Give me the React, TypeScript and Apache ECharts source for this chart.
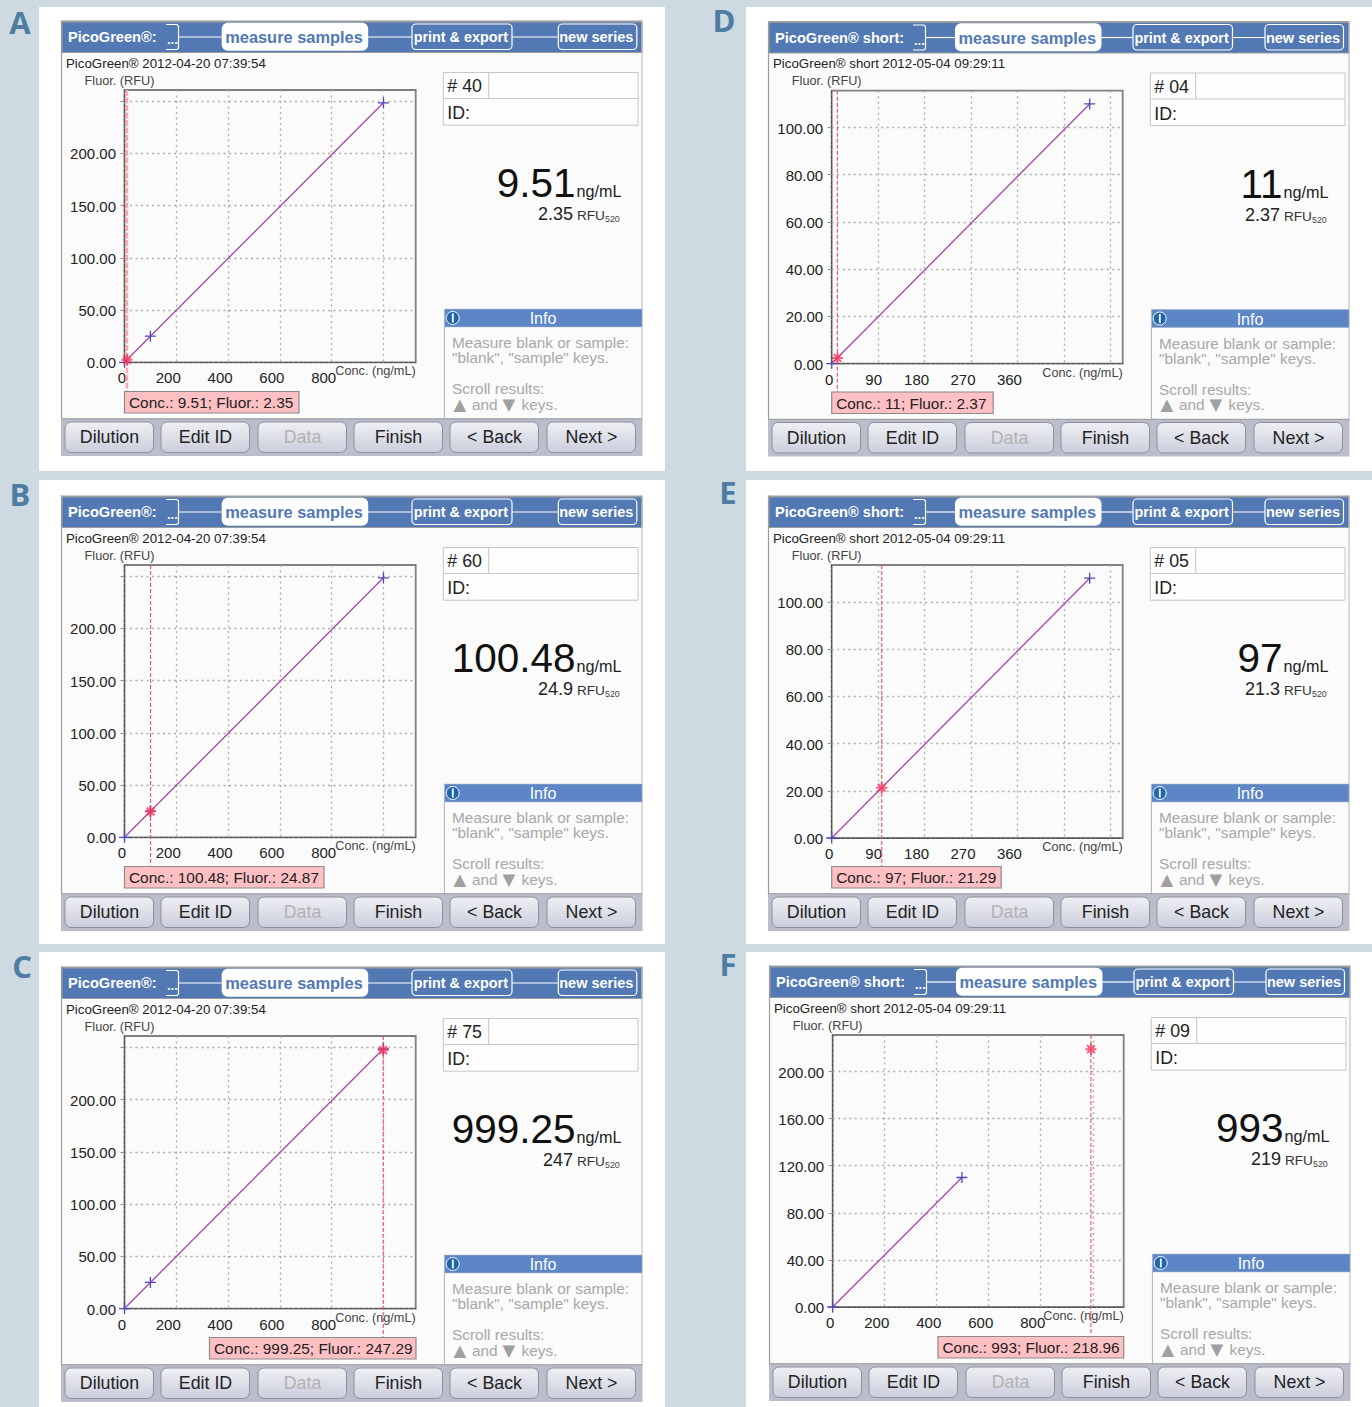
import React, { useEffect, useRef } from "react";
import * as echarts from "echarts";

// ---------- data ----------
const panelLetters = ["A", "B", "C", "D", "E", "F"];
const sampleNumbers = ["40", "60", "75", "04", "05", "09"];
const sampleConc = [9.51, 100.48, 999.25, 11, 97, 993];
const sampleFluor = [2.35, 24.87, 247.29, 2.37, 21.29, 218.96];
const bigConcText = ["9.51", "100.48", "999.25", "11", "97", "993"];
const bigFluorText = ["2.35", "24.9", "247", "2.37", "21.3", "219"];
const boxLabels = [
  "Conc.: 9.51; Fluor.: 2.35",
  "Conc.: 100.48; Fluor.: 24.87",
  "Conc.: 999.25; Fluor.: 247.29",
  "Conc.: 11; Fluor.: 2.37",
  "Conc.: 97; Fluor.: 21.29",
  "Conc.: 993; Fluor.: 218.96",
];
const standardsLong = [[0, 0], [100, 25], [1000, 248.5]];
const standardsShort = [[0, 0], [500, 110]];
const standardsF = [[0, 0], [497, 110]];
const buttonLabels = ["Dilution", "Edit ID", "Data", "Finish", "< Back", "Next >"];
const infoLines = ["Measure blank or sample:", '"blank", "sample" keys.', "Scroll results:"];
const titleLong = "PicoGreen®:";
const titleShort = "PicoGreen® short:";
const stampLong = "PicoGreen® 2012-04-20 07:39:54";
const stampShort = "PicoGreen® short 2012-05-04 09:29:11";

// ---------- layout ----------
const FONT = '"Liberation Sans", Arial, sans-serif';
const PLUS = "path://M-5 0 L5 0 M0 -5 L0 5";
const STAR = "path://M0 -5 L0 5 M-5 0 L5 0 M-3.5 -3.5 L3.5 3.5 M-3.5 3.5 L3.5 -3.5";

const layouts = [
  { ox: 61, oy: 20.5, l: 124.5, r: 415.7, t: 90, b: 362.3, std: standardsLong, xMax: 1124.6, xStep: 200, xLast: 800, yMax: 260.8, yStep: 50, yLast: 200, tail: -27, boxX: 124.5, boxW: 174.5, short: false },
  { ox: 61, oy: 495.5, l: 124.5, r: 415.7, t: 565, b: 837.3, std: standardsLong, xMax: 1124.6, xStep: 200, xLast: 800, yMax: 260.8, yStep: 50, yLast: 200, tail: -27, boxX: 124.5, boxW: 199.5, short: false },
  { ox: 61, oy: 966.5, l: 124.5, r: 415.7, t: 1036, b: 1308.6, std: standardsLong, xMax: 1124.6, xStep: 200, xLast: 800, yMax: 260.8, yStep: 50, yLast: 200, tail: -27, boxX: 209.5, boxW: 206.5, short: false },
  { ox: 768, oy: 21, l: 831.7, r: 1122.7, t: 90.7, b: 363.6, std: standardsShort, xMax: 564, xStep: 90, xLast: 360, yMax: 115.6, yStep: 20, yLast: 100, tail: -12, boxX: 831.7, boxW: 161.5, short: true },
  { ox: 768, oy: 495.5, l: 831.7, r: 1122.7, t: 565, b: 838, std: standardsShort, xMax: 564, xStep: 90, xLast: 360, yMax: 115.6, yStep: 20, yLast: 100, tail: -12, boxX: 831.7, boxW: 169.5, short: true },
  { ox: 769, oy: 965.5, l: 832.7, r: 1123.7, t: 1035, b: 1307, std: standardsF, xMax: 1119, xStep: 200, xLast: 800, yMax: 231, yStep: 40, yLast: 200, tail: -23, boxX: 938, boxW: 185.7, short: true },
];

const cards = [
  { x: 39, y: 7, w: 626, h: 464 },
  { x: 39, y: 480, w: 626, h: 464 },
  { x: 39, y: 952, w: 626, h: 455 },
  { x: 746, y: 7, w: 626, h: 464 },
  { x: 746, y: 480, w: 626, h: 464 },
  { x: 746, y: 952, w: 626, h: 455 },
];
const letterPos = [[20, 22], [20, 494], [22, 966], [724, 19.5], [728, 492], [728, 964]];
const buttonX = [4, 100, 197, 293, 389, 486];

function bg(x: number, y: number, w: number, h: number, fill: any, stroke?: string, r = 0, lw = 1, z = -50) {
  return {
    type: "rect", silent: true, z,
    shape: { x, y, width: w, height: h, r },
    style: { fill, stroke: stroke || "none", lineWidth: lw },
  };
}
function txt(x: number, y: number, text: string, font: string, fill: string, align = "left", z = 50) {
  return {
    type: "text", silent: true, z, x, y,
    style: { text, font, fill, textAlign: align, textVerticalAlign: "middle" },
  };
}
function seg(pts: number[][], stroke: string, lw = 1.2, z = -40) {
  return { type: "polyline", silent: true, z, shape: { points: pts }, style: { stroke, lineWidth: lw, fill: "none" } };
}

function panelGraphics(i: number) {
  const p = layouts[i];
  const X = (v: number) => p.ox + v;
  const Y = (v: number) => p.oy + v;
  const out: any[] = [];
  const W = 581.5;
  const H = 435.5;
  // body
  out.push(bg(X(0), Y(0), W, H, "#fbfbfb"));
  out.push(seg([[X(0.5), Y(0)], [X(0.5), Y(398)]], "#9c9c9c", 1.2, -45));
  out.push(seg([[X(W - 0.5), Y(0)], [X(W - 0.5), Y(398)]], "#b8b8b8", 1, -45));
  // header band
  out.push(bg(X(0), Y(0), W, 32.5, "#9c9c9c"));
  out.push(bg(X(1.5), Y(2), W - 2.5, 29.5, "#5279b4"));
  const a = p.short
    ? { br: 145, ms: 187, pr: 365, ps: 464.5, nw: 497 }
    : { br: 105, ms: 160.7, pr: 351, ps: 451, nw: 497.3 };
  out.push(txt(X(7), Y(16.5), p.short ? titleShort : titleLong, `bold 14.6px ${FONT}`, "#ffffff"));
  out.push(txt(X(a.br + 1), Y(19), "...", `bold 13px ${FONT}`, "#ffffff"));
  out.push(seg([[X(a.br), Y(4)], [X(a.br + 11), Y(4)], [X(a.br + 12.5), Y(5.5)], [X(a.br + 12.5), Y(27.5)], [X(a.br + 11), Y(29)], [X(a.br), Y(29)]], "#ffffff"));
  out.push(seg([[X(a.br + 12.5), Y(16.5)], [X(a.ms), Y(16.5)]], "#ffffff"));
  out.push(seg([[X(a.ms + 146), Y(16.5)], [X(a.pr), Y(16.5)]], "#ffffff"));
  out.push(seg([[X(a.ps), Y(16.5)], [X(a.nw), Y(16.5)]], "#ffffff"));
  out.push(bg(X(a.ms), Y(2.2), 146.5, 28, "#ffffff", undefined, 6, 0, -39));
  out.push(txt(X(a.ms + 72.3), Y(16.5), "measure samples", `bold 16.4px ${FONT}`, "#5279b4", "center"));
  out.push(bg(X(a.pr), Y(3.5), a.ps - a.pr, 25.5, "none", "#ffffff", 4, 1.2, -39));
  out.push(txt(X((a.pr + a.ps) / 2 - 1.2), Y(16.5), "print & export", `bold 14.4px ${FONT}`, "#ffffff", "center"));
  out.push(bg(X(a.nw), Y(3.5), 78.5, 25.5, "none", "#ffffff", 4, 1.2, -39));
  out.push(txt(X(a.nw + 38), Y(16.5), "new series", `bold 14.5px ${FONT}`, "#ffffff", "center"));

  out.push(txt(X(5), Y(42.5), p.short ? stampShort : stampLong, `13.3px ${FONT}`, "#222222"));

  // sample table
  out.push(bg(X(382.3), Y(52), 194.7, 52.7, "#fdfdfd", "#c6c6c6", 0, 1, -39));
  out.push(seg([[X(382.3), Y(78)], [X(577), Y(78)]], "#c6c6c6", 1, -38));
  out.push(seg([[X(427.7), Y(52)], [X(427.7), Y(78)]], "#c6c6c6", 1, -38));
  out.push(txt(X(386.3), Y(65.5), `# ${sampleNumbers[i]}`, `17.8px ${FONT}`, "#222222"));
  out.push(txt(X(386.3), Y(92.5), "ID:", `17.8px ${FONT}`, "#222222"));

  // big readout
  out.push(txt(X(514.5), Y(162.5), bigConcText[i], `40.5px ${FONT}`, "#111111", "right"));
  out.push(txt(X(515.5), Y(170.5), "ng/mL", `16.2px ${FONT}`, "#222222"));
  out.push(txt(X(512), Y(193.5), bigFluorText[i], `18px ${FONT}`, "#222222", "right"));
  out.push(txt(X(516), Y(195), "RFU", `13.6px ${FONT}`, "#333333"));
  out.push(txt(X(544), Y(198.5), "520", `8.8px ${FONT}`, "#444444"));

  // info pane
  out.push(bg(X(383.4), Y(288.6), 197.6, 17.8, "#5c86c6", "#a8b4c8", 0, 0.6, -39));
  out.push(txt(X(482), Y(298), "Info", `16px ${FONT}`, "#ffffff", "center"));
  out.push({ type: "circle", silent: true, z: 40, shape: { cx: X(391.7), cy: Y(297.5), r: 6.5 }, style: { fill: "#1f66ad", stroke: "#ffffff", lineWidth: 1 } });
  out.push(bg(X(390.9), Y(293), 1.8, 9, "#ffffff", undefined, 0, 0, 41));
  out.push(seg([[X(383.4), Y(306)], [X(383.4), Y(398)]], "#b0b0b0", 1, -38));
  const infoY = [322, 337, 368];
  const gray = "#a8a8a8";
  infoLines.forEach((t, k) => out.push(txt(X(391), Y(infoY[k]), t, `15.4px ${FONT}`, gray)));
  const tri = `16.5px "DejaVu Sans", sans-serif`;
  out.push(txt(X(398.8), Y(383.5), "▲", tri, "#a0a0a0", "center"));
  out.push(txt(X(411), Y(383.5), "and", `15.4px ${FONT}`, gray));
  out.push(txt(X(447.8), Y(383.5), "▼", tri, "#a0a0a0", "center"));
  out.push(txt(X(460.5), Y(383.5), "keys.", `15.4px ${FONT}`, gray));

  // value box below the plot
  out.push(bg(p.boxX, Y(371), p.boxW, 21.5, "#ffc0c4", "#8a8a8a", 0, 1.2, 20));
  out.push(txt(p.boxX + 4.5, Y(382), boxLabels[i], `15.4px ${FONT}`, "#222222", "left", 51));

  // button bar
  out.push(bg(X(0), Y(398), W, 37.5, "#babdcc", undefined, 0, 0, -39));
  out.push(seg([[X(0), Y(398.3)], [X(W), Y(398.3)]], "#9c9c9c", 1, -38));
  buttonLabels.forEach((t, k) => {
    const fill = new echarts.graphic.LinearGradient(0, 0, 0, 1, [
      { offset: 0, color: "#eff0f5" },
      { offset: 1, color: "#cbcddb" },
    ]);
    out.push(bg(X(buttonX[k]), Y(401.5), 88.5, 30.5, fill, "#8f8f96", 6, 1, -38));
    out.push(txt(X(buttonX[k] + 44.5), Y(416.5), t, `17.8px ${FONT}`, t === "Data" ? "#b2b2b2" : "#222222", "center"));
  });
  return out;
}

function buildOption() {
  const graphic: any[] = [];
  cards.forEach((c) => graphic.push(bg(c.x, c.y, c.w, c.h, "#ffffff", undefined, 0, 0, -60)));
  panelLetters.forEach((t, i) => {
    graphic.push(txt(letterPos[i][0], letterPos[i][1], t, `bold 31px "Open Sans", ${FONT}`, "#4f7ca1", "center"));
  });
  layouts.forEach((_, i) => graphic.push(...panelGraphics(i)));

  const grid: any[] = [];
  const xAxis: any[] = [];
  const yAxis: any[] = [];
  const series: any[] = [];
  layouts.forEach((p, i) => {
    grid.push({
      left: p.l, top: p.t, width: p.r - p.l, height: p.b - p.t,
      show: true, backgroundColor: "transparent", borderColor: "#808080", borderWidth: 1.8,
      containLabel: false,
    });
    const split = { show: true, showMinLine: false, showMaxLine: false, lineStyle: { color: "#adadad", type: [2, 3.5], width: 1.3 } };
    const axLine = { show: true, onZero: false, lineStyle: { color: "#505050", type: [3, 2], width: 1.1 } };
    xAxis.push({
      type: "value", gridIndex: i, min: 0, max: p.xMax, interval: p.xStep,
      name: "Conc. (ng/mL)", nameLocation: "end", nameGap: 0, nameMoveOverlap: false,
      nameTextStyle: { fontFamily: FONT, fontSize: 12.7, color: "#444444", align: "right", verticalAlign: "top", lineHeight: 18 },
      axisLine: axLine, axisTick: { show: false }, splitLine: split,
      axisLabel: {
        show: true, margin: 8, showMaxLabel: false,
        fontFamily: FONT, fontSize: 15, color: "#222222",
        formatter: (v: number) => (v === 0 ? "{z|0}" : v > p.xLast ? "" : v < 100 ? `{s|${v}}` : `{n|${v}}`),
        rich: {
          z: { fontFamily: FONT, fontSize: 15, color: "#222222", padding: [0, 5, 0, 0] },
          s: { fontFamily: FONT, fontSize: 15, color: "#222222", padding: [0, 9, 0, 0] },
          n: { fontFamily: FONT, fontSize: 15, color: "#222222", padding: [0, 16, 0, 0] },
        },
      },
    });
    yAxis.push({
      type: "value", gridIndex: i, min: 0, max: p.yMax, interval: p.yStep,
      name: "Fluor. (RFU)", nameLocation: "end", nameGap: 3, nameMoveOverlap: false,
      nameTextStyle: { fontFamily: FONT, fontSize: 12.7, color: "#444444", align: "center", padding: [0, 10, 0, 0] },
      axisLine: axLine,
      axisTick: { show: true, length: 4, lineStyle: { color: "#909090" } },
      splitLine: split,
      axisLabel: {
        show: true, margin: 8.5, showMaxLabel: false,
        fontFamily: FONT, fontSize: 15, color: "#222222",
        formatter: (v: number) => (v > p.yLast ? "" : `{v|${v.toFixed(2)}}`),
        rich: { v: { fontFamily: FONT, fontSize: 15, color: "#222222", padding: [1, 0, 0, 0] } },
      },
    });
    series.push({
      type: "line", name: "sample marker", xAxisIndex: i, yAxisIndex: i, clip: false, z: 3,
      data: [[sampleConc[i], p.yMax], [sampleConc[i], p.tail]],
      symbol: "none", silent: true,
      lineStyle: i === 0
        ? { color: "#ffa6ae", width: 2.6, type: [6, 1.5] }
        : { color: "#ee4f6e", width: 1.1, type: [4, 2] },
    });
    series.push({
      type: "line", name: "standard curve", xAxisIndex: i, yAxisIndex: i, z: 4, clip: false,
      data: p.std,
      symbol: PLUS, symbolSize: 11, showAllSymbol: true, silent: true,
      itemStyle: { color: "transparent", borderColor: "#4c4ab8", borderWidth: 1.3 },
      lineStyle: { color: "#a650ac", width: 1.4 },
    });
    series.push({
      type: "scatter", name: "sample", xAxisIndex: i, yAxisIndex: i, z: 6, clip: false,
      data: [[sampleConc[i], sampleFluor[i]]],
      symbol: STAR, symbolSize: 11, silent: true,
      itemStyle: { color: "transparent", borderColor: "#f6355a", borderWidth: 2 },
    });
  });

  return {
    animation: false,
    backgroundColor: "#cddae2",
    textStyle: { fontFamily: FONT },
    tooltip: { show: false },
    graphic: { elements: graphic },
    grid, xAxis, yAxis, series,
  };
}

export default function App() {
  const ref = useRef<HTMLDivElement>(null);
  useEffect(() => {
    const chart = echarts.init(ref.current!, undefined, { renderer: "svg" });
    chart.setOption(buildOption() as any);
    return () => chart.dispose();
  }, []);
  return <div ref={ref} style={{ position: "absolute", left: 0, top: 0, width: 1372, height: 1407 }} />;
}
